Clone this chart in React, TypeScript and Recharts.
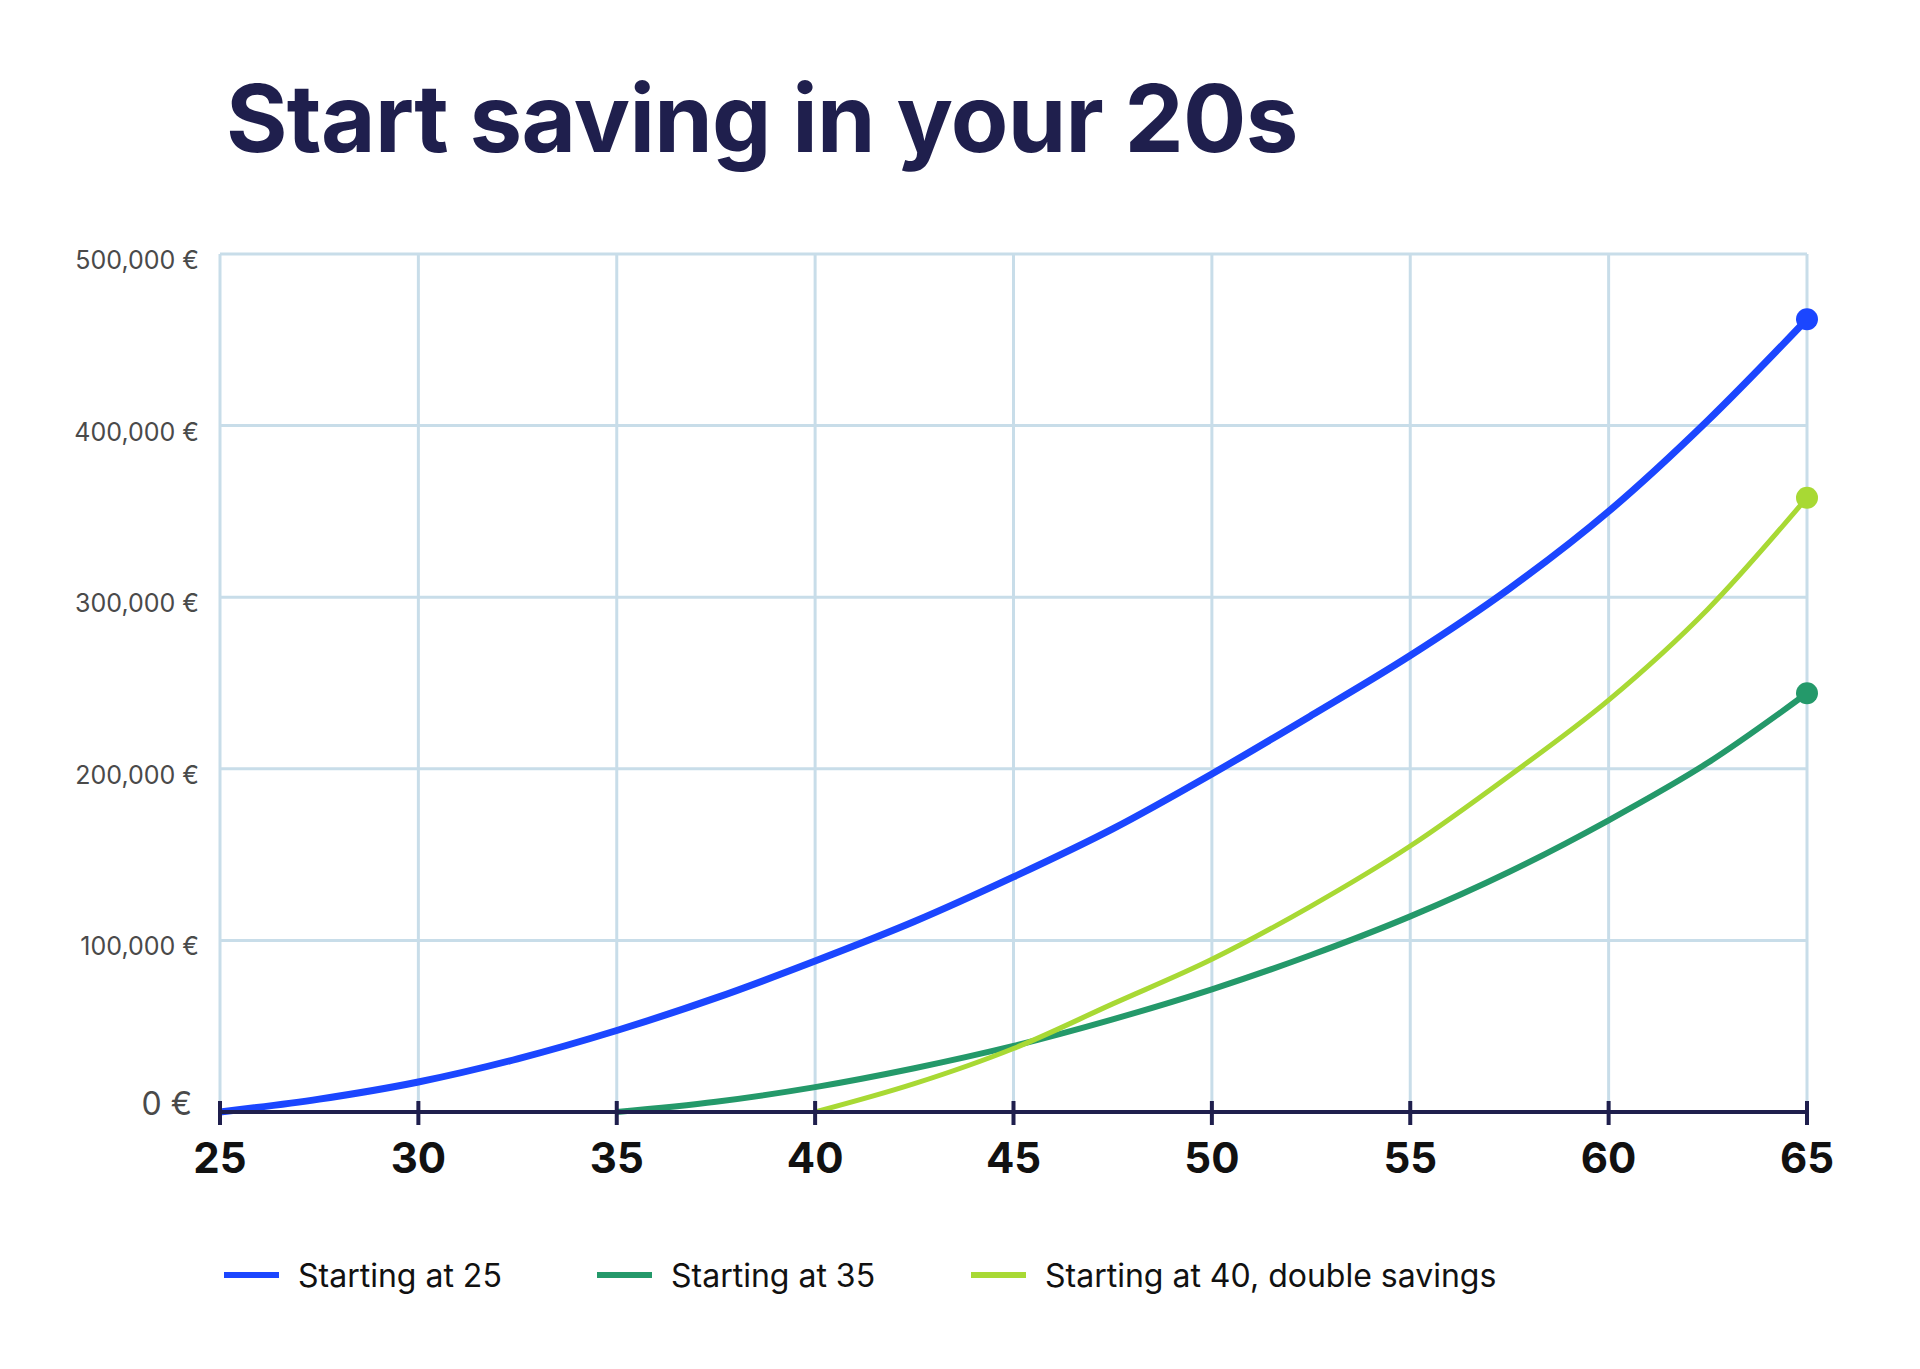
import { LineChart, Line, XAxis, YAxis, CartesianGrid } from 'recharts';

// Ages (x positions) the curves were read at
const ages = [25, 27.5, 30, 32.5, 35, 37.5, 40, 42.5, 45, 47.5, 50, 52.5, 55, 57.5, 60, 62.5, 65];

// Savings in EUR
const startAt25 = [
  0, 7500, 17500, 31000, 47500, 66500, 88000, 111000, 137000, 165000, 197000, 231000, 266000,
  305000, 350000, 403000, 462000,
];
const startAt35 = [
  null, null, null, null, 0, 6000, 14500, 25500, 38500, 54000, 71500, 91500, 114000, 140000,
  170000, 203500, 244000,
];
const startAt40 = [
  null, null, null, null, null, null, 0, 16500, 37000, 63000, 89000, 120000, 155000, 196000,
  240000, 293000, 358000,
];

const xTicks = [25, 30, 35, 40, 45, 50, 55, 60, 65];
const yTicks = [0, 100000, 200000, 300000, 400000, 500000];

const seriesNames = ['Starting at 25', 'Starting at 35', 'Starting at 40, double savings'];
const seriesColors = ['#1b46ff', '#24996a', '#a8d934'];

const NAVY = '#1f1f4d';
const FONT = 'Inter, "Noto Sans", sans-serif';

const chartData = ages.map((age, i) => ({
  age,
  s25: startAt25[i],
  s35: startAt35[i],
  s40: startAt40[i],
}));

const lastIndex = ages.length - 1;

function AgeTick({ x, y, payload }: any) {
  return (
    <g>
      <line x1={x} x2={x} y1={y - 11} y2={y + 13} stroke={NAVY} strokeWidth={4} />
      <text
        x={x}
        y={y + 61}
        textAnchor="middle"
        fontSize={42}
        fontWeight={700}
        fontFamily={FONT}
        fill="#111111"
      >
        {payload.value}
      </text>
    </g>
  );
}

function EuroTick({ x, y, payload }: any) {
  const value = Number(payload.value);
  if (value === 0) {
    return (
      <text x={x - 28} y={y + 3} textAnchor="end" fontSize={32} fontFamily={FONT} fill="#4a4a4a">
        0 €
      </text>
    );
  }
  return (
    <text x={x - 21} y={y + 15} textAnchor="end" fontSize={25} fontFamily={FONT} fill="#4a4a4a">
      {`${value.toLocaleString('en-US')} €`}
    </text>
  );
}

// only the final point of each curve gets a dot
const endDot = (color: string) => (props: any) => {
  if (props.index !== lastIndex) return <g key={props.index} />;
  return <circle key={props.index} cx={props.cx} cy={props.cy} r={11} fill={color} />;
};

export default function App() {
  return (
    <div
      style={{
        position: 'absolute',
        left: 0,
        top: 0,
        width: 1920,
        height: 1369,
        background: '#ffffff',
        fontFamily: FONT,
      }}
    >
      <div
        style={{
          position: 'absolute',
          left: 226,
          top: 71,
          fontSize: 94,
          lineHeight: 1,
          fontWeight: 700,
          letterSpacing: -0.7,
          color: NAVY,
          whiteSpace: 'nowrap',
        }}
      >
        Start saving in your 20s
      </div>

      <div style={{ position: 'absolute', left: 0, top: 0 }}>
        <LineChart
          width={1920}
          height={1369}
          data={chartData}
          margin={{ top: 254, right: 113, bottom: 107, left: 20 }}
        >
          <CartesianGrid stroke="#c8dde9" strokeWidth={3} />
          <YAxis
            type="number"
            domain={[0, 500000]}
            ticks={yTicks}
            width={200}
            axisLine={false}
            tickLine={false}
            tickSize={0}
            tickMargin={0}
            tick={<EuroTick />}
            interval={0}
          />
          <XAxis
            dataKey="age"
            type="number"
            domain={[25, 65]}
            ticks={xTicks}
            height={150}
            axisLine={{ stroke: NAVY, strokeWidth: 4 }}
            tickLine={false}
            tickSize={0}
            tickMargin={0}
            tick={<AgeTick />}
            interval={0}
          />
          <Line
            type="monotone"
            dataKey="s35"
            stroke={seriesColors[1]}
            strokeWidth={6}
            dot={endDot(seriesColors[1])}
            activeDot={false}
            isAnimationActive={false}
          />
          <Line
            type="monotone"
            dataKey="s40"
            stroke={seriesColors[2]}
            strokeWidth={5}
            dot={endDot(seriesColors[2])}
            activeDot={false}
            isAnimationActive={false}
          />
          <Line
            type="monotone"
            dataKey="s25"
            stroke={seriesColors[0]}
            strokeWidth={7}
            dot={endDot(seriesColors[0])}
            activeDot={false}
            isAnimationActive={false}
          />
        </LineChart>
      </div>

      {/* legend */}
      {seriesNames.map((name, i) => (
        <div
          key={name}
          style={{
            position: 'absolute',
            left: [224, 597, 971][i],
            top: 1255,
            height: 40,
            display: 'flex',
            alignItems: 'center',
            whiteSpace: 'nowrap',
          }}
        >
          <span
            style={{ display: 'inline-block', width: 55, height: 6, background: seriesColors[i] }}
          />
          <span style={{ marginLeft: 19, fontSize: 32, color: '#111111' }}>{name}</span>
        </div>
      ))}
    </div>
  );
}
